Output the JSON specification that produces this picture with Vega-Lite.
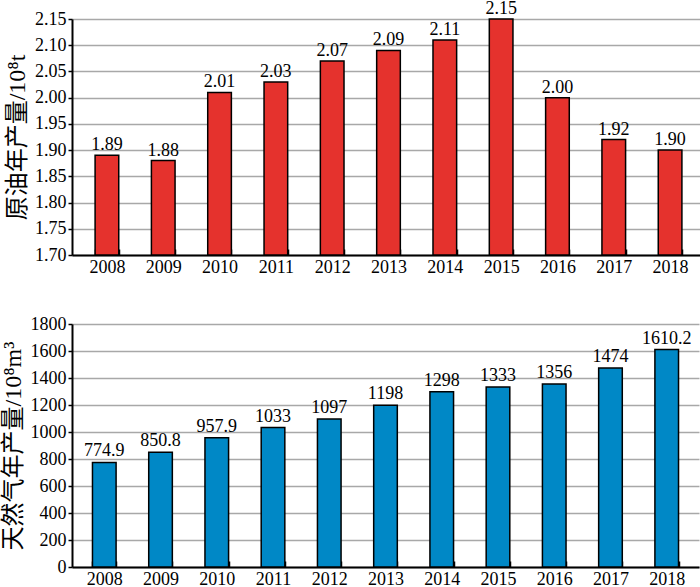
{
  "$schema": "https://vega.github.io/schema/vega-lite/v6.json",
  "background": "white",
  "padding": {"left": 1, "top": 0, "right": 0, "bottom": 0},
  "bounds": "flush",
  "spacing": 69,
  "datasets": {
    "oil": [
      {"year": "2008", "value": 1.89},
      {"year": "2009", "value": 1.88},
      {"year": "2010", "value": 2.01},
      {"year": "2011", "value": 2.03},
      {"year": "2012", "value": 2.07},
      {"year": "2013", "value": 2.09},
      {"year": "2014", "value": 2.11},
      {"year": "2015", "value": 2.15},
      {"year": "2016", "value": 2.00},
      {"year": "2017", "value": 1.92},
      {"year": "2018", "value": 1.90}
    ],
    "gas": [
      {"year": "2008", "value": 774.9, "label": "774.9"},
      {"year": "2009", "value": 850.8, "label": "850.8"},
      {"year": "2010", "value": 957.9, "label": "957.9"},
      {"year": "2011", "value": 1033, "label": "1033"},
      {"year": "2012", "value": 1097, "label": "1097"},
      {"year": "2013", "value": 1198, "label": "1198"},
      {"year": "2014", "value": 1298, "label": "1298"},
      {"year": "2015", "value": 1333, "label": "1333"},
      {"year": "2016", "value": 1356, "label": "1356"},
      {"year": "2017", "value": 1474, "label": "1474"},
      {"year": "2018", "value": 1610.2, "label": "1610.2"}
    ]
  },
  "config": {
    "view": {"stroke": null},
    "font": "Liberation Serif",
    "axis": {
      "domainColor": "black",
      "domainWidth": 2,
      "tickColor": "black",
      "tickWidth": 1.5,
      "labelFont": "Liberation Serif",
      "labelFontSize": 18,
      "labelColor": "black",
      "labelOverlap": false,
      "titleFont": "Liberation Serif, Noto Sans CJK SC",
      "titleFontSize": 24,
      "titleFontWeight": "normal",
      "titleColor": "black",
      "gridColor": "#a8a8a8",
      "gridWidth": 1.5
    },
    "axisX": {
      "tickBand": "extent",
      "tickSize": -6,
      "labelPadding": 9,
      "labelAngle": 0,
      "grid": false,
      "title": null
    },
    "axisY": {
      "tickSize": 4,
      "labelPadding": 2,
      "titlePadding": 5,
      "grid": true
    }
  },
  "vconcat": [
    {
      "width": 633,
      "height": 236,
      "data": {"name": "oil"},
      "encoding": {
        "x": {"field": "year", "type": "ordinal", "scale": {"paddingInner": 0.58, "paddingOuter": 0.41}},
        "y": {
          "field": "value", "type": "quantitative",
          "scale": {"domain": [1.7, 2.15], "zero": false, "nice": false},
          "axis": {"values": [1.7, 1.75, 1.8, 1.85, 1.9, 1.95, 2.0, 2.05, 2.1, 2.15], "tickCount": 10, "format": ".2f", "title": "原油年产量/10⁸t"}
        }
      },
      "layer": [
        {
          "mark": {"type": "bar", "color": "#e5322d", "stroke": "black", "strokeWidth": 1.5},
          "encoding": {"y2": {"datum": 1.7}}
        },
        {
          "mark": {"type": "text", "baseline": "bottom", "dy": -1, "fontSize": 18, "font": "Liberation Serif"},
          "encoding": {
            "text": {"field": "value", "type": "quantitative", "format": ".2f"}
          }
        }
      ]
    },
    {
      "width": 627,
      "height": 243,
      "data": {"name": "gas"},
      "encoding": {
        "x": {"field": "year", "type": "ordinal", "scale": {"paddingInner": 0.58, "paddingOuter": 0.364}},
        "y": {
          "field": "value", "type": "quantitative",
          "scale": {"domain": [0, 1800], "nice": false},
          "axis": {"values": [0, 200, 400, 600, 800, 1000, 1200, 1400, 1600, 1800], "tickCount": 10, "format": "d", "title": "天然气年产量/10⁸m³"}
        }
      },
      "layer": [
        {
          "mark": {"type": "bar", "color": "#0088c6", "stroke": "black", "strokeWidth": 1.5}
        },
        {
          "mark": {"type": "text", "baseline": "bottom", "dy": -2, "fontSize": 18, "font": "Liberation Serif"},
          "encoding": {
            "text": {"field": "label", "type": "nominal"}
          }
        }
      ]
    }
  ]
}
